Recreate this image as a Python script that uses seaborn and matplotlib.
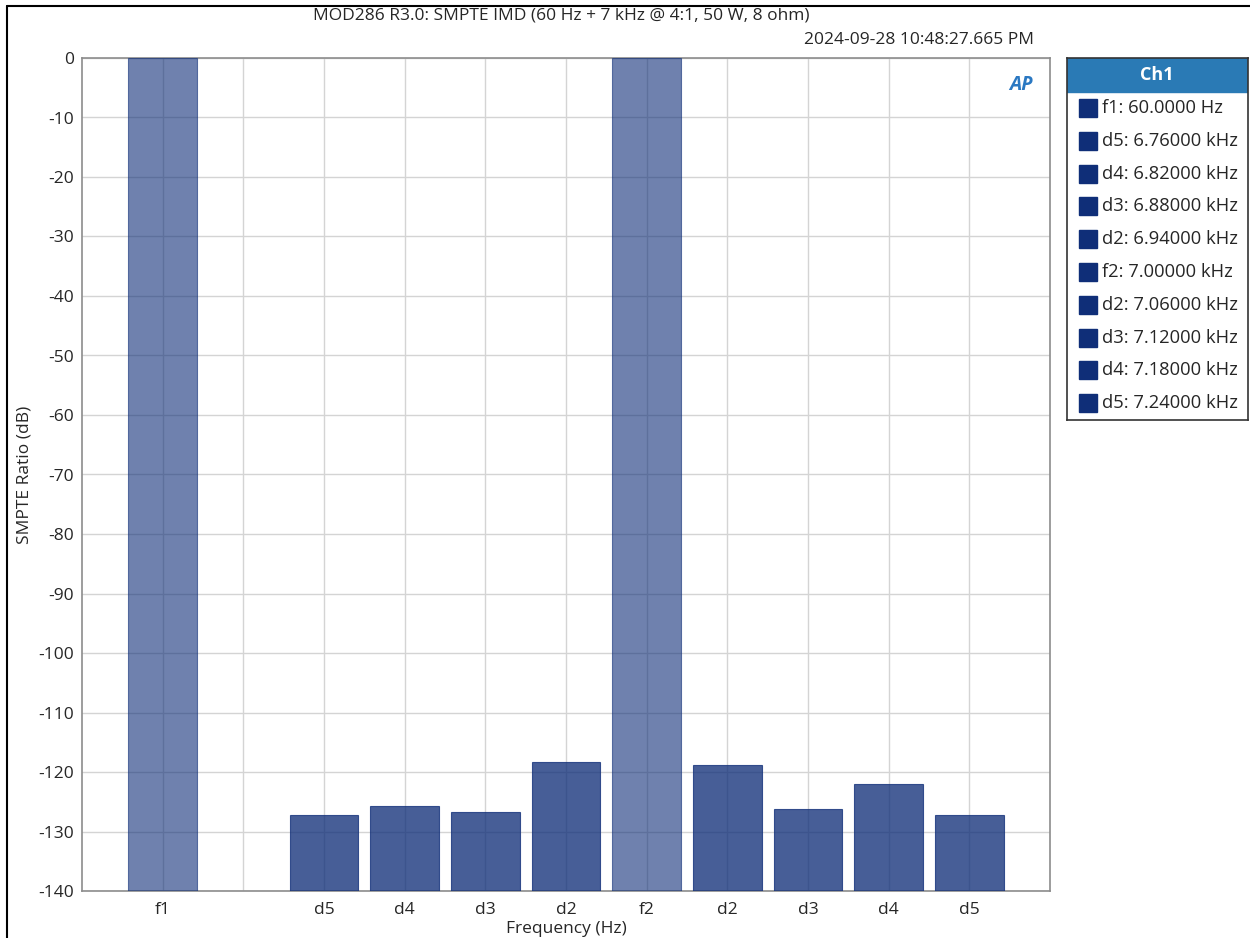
"""SMPTE IMD bar chart (AP analyzer style) recreated with seaborn."""

import matplotlib
matplotlib.use("Agg")
import matplotlib.pyplot as plt
from matplotlib.lines import Line2D
from matplotlib.patches import Rectangle
import pandas as pd
import seaborn as sns

TITLE = "MOD286 R3.0: SMPTE IMD (60 Hz + 7 kHz @ 4:1, 50 W, 8 ohm)"
TIMESTAMP = "2024-09-28 10:48:27.665 PM"

# bar data: label, slot position on the axis, level in dB
LABELS = ["f1", "d5", "d4", "d3", "d2", "f2", "d2", "d3", "d4", "d5"]
SLOTS = [0, 2, 3, 4, 5, 6, 7, 8, 9, 10]
LEVELS = [0.0, -127.2, -125.7, -126.7, -118.3, 0.0, -118.8, -126.2, -122.0, -127.2]
FREQS = ["60.0000 Hz", "6.76000 kHz", "6.82000 kHz", "6.88000 kHz", "6.94000 kHz",
         "7.00000 kHz", "7.06000 kHz", "7.12000 kHz", "7.18000 kHz", "7.24000 kHz"]
FLOOR = -140

NAVY = "#0f2e78"
FS = 12.5

sns.set_theme(style="whitegrid")
plt.rcParams["font.family"] = ["Open Sans", "DejaVu Sans"]

df = pd.DataFrame({"slot": SLOTS, "label": LABELS, "level": LEVELS})
df["height"] = df["level"] - FLOOR

fig = plt.figure(figsize=(12.5, 9.38), dpi=100)
ax = fig.add_axes([82 / 1250, 1 - 891 / 938, 968 / 1250, 833 / 938])

sns.barplot(data=df, x="slot", y="height", native_scale=True, width=0.85,
            color=NAVY, saturation=1, bottom=FLOOR, ax=ax,
            edgecolor=NAVY, linewidth=0.8)

# fundamentals are drawn lighter than the distortion products
for patch, lab in zip(ax.patches, df["label"]):
    patch.set_alpha(0.6 if lab.startswith("f") else 0.77)
    patch.set_zorder(3)

ax.set_xlim(-1, 11)
ax.set_ylim(FLOOR, 0)
ax.set_xticks(range(0, 11))
tick_labels = [""] * 11
for s, lab in zip(SLOTS, LABELS):
    tick_labels[s] = lab
ax.set_xticklabels(tick_labels, fontsize=FS)
ax.set_yticks(range(FLOOR, 1, 10))
ax.set_yticklabels([str(v) for v in range(FLOOR, 1, 10)], fontsize=FS)
ax.tick_params(axis="y", length=0, pad=6)
ax.tick_params(axis="x", length=0, pad=8)
ax.grid(True, color="#d4d4d4", linewidth=1)
ax.set_axisbelow(True)
for sp in ax.spines.values():
    sp.set_color("#8c8c8c")
    sp.set_linewidth(1.2)

ax.set_xlabel("Frequency (Hz)", fontsize=FS, labelpad=2)
ax.set_ylabel("SMPTE Ratio (dB)", fontsize=FS, labelpad=4)

fig.text(561 / 1250, 1 - 16 / 938, TITLE, ha="center", va="center", fontsize=FS)
fig.text(1034 / 1250, 1 - 40 / 938, TIMESTAMP, ha="right", va="center", fontsize=FS)

# AP logo
ax.text(0.982, 0.967, "AP", transform=ax.transAxes, ha="right", va="center",
        fontsize=14, fontstyle="italic", fontweight="bold", color="#2a78c2")

# legend box
lg = fig.add_axes([1067 / 1250, 1 - 420 / 938, 181 / 1250, 362 / 938])
lg.set_xlim(0, 181)
lg.set_ylim(362, 0)
lg.set_xticks([])
lg.set_yticks([])
lg.grid(False)
for sp in lg.spines.values():
    sp.set_color("#333333")
    sp.set_linewidth(1.2)
lg.add_patch(Rectangle((0, 0), 181, 34, color="#2a7ab5"))
lg.text(90, 17, "Ch1", ha="center", va="center", fontsize=13,
        fontweight="bold", color="white")
for i, (lab, fr) in enumerate(zip(LABELS, FREQS)):
    y = 50 + i * 32.8
    lg.add_patch(Rectangle((12, y - 9), 18, 18, color=NAVY))
    lg.text(35, y, f"{lab}: {fr}", ha="left", va="center", fontsize=13.2)

# outer frame lines (left and top)
fig.add_artist(Line2D([7 / 1250, 7 / 1250], [0, 1 - 6 / 938], color="black",
                      linewidth=1.5, transform=fig.transFigure))
fig.add_artist(Line2D([7 / 1250, 1], [1 - 6 / 938, 1 - 6 / 938], color="black",
                      linewidth=1.5, transform=fig.transFigure))

fig.savefig("out.png", dpi=100)
